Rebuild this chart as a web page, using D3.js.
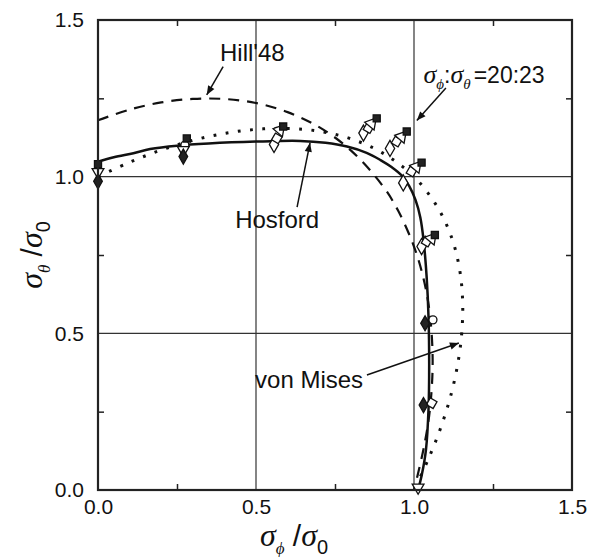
<!DOCTYPE html>
<html>
<head>
<meta charset="utf-8">
<script src="https://cdn.jsdelivr.net/npm/d3@7"></script>
<style>
  body { margin: 0; background: #fff; }
  svg { display: block; }
</style>
</head>
<body>
<div id="chart"></div>
<script>
// axis ticks
const majorTicks = [0, 0.5, 1.0, 1.5];
const minorTicks = [0.25, 0.75, 1.25];
const gridValues = [0.5, 1.0];

// model curves, [sigma_phi/sigma_0, sigma_theta/sigma_0]
const hill48 = [[0, 1.18], [0.1, 1.214], [0.2, 1.237], [0.3, 1.248], [0.4, 1.248], [0.5, 1.235],
    [0.6, 1.206], [0.7, 1.158], [0.8, 1.084], [0.9, 0.972], [0.95, 0.891], [1.0, 0.777],
    [1.03, 0.675], [1.05, 0.562], [1.059, 0.41], [1.05, 0.254], [1.03, 0.13], [1.0, 0]];
const vonMises = [[0, 1.0], [0.1, 1.046], [0.2, 1.085], [0.3, 1.116], [0.4, 1.138], [0.5, 1.151],
    [0.6, 1.154], [0.7, 1.145], [0.8, 1.121], [0.9, 1.076], [1.0, 1.0], [1.076, 0.9], [1.121, 0.8],
    [1.145, 0.7], [1.154, 0.6], [1.151, 0.5], [1.138, 0.4], [1.116, 0.3], [1.085, 0.2],
    [1.046, 0.1], [1.0, 0]];
const hosford = [[0, 1.048], [0.05, 1.062], [0.112, 1.075], [0.165, 1.088], [0.25, 1.099],
    [0.35, 1.106], [0.5, 1.112], [0.64, 1.114], [0.72, 1.108], [0.788, 1.096], [0.85, 1.076],
    [0.894, 1.053], [0.93, 1.03], [0.96, 1.005], [0.985, 0.97], [1.005, 0.925], [1.02, 0.87],
    [1.03, 0.8], [1.04, 0.68], [1.046, 0.55], [1.048, 0.4], [1.046, 0.26], [1.038, 0.13],
    [1.025, 0.05], [1.013, 0]];

// measured points, one array per symbol
const filledSquare = [[0, 1.04], [0.281, 1.122], [0.586, 1.16], [0.882, 1.186], [0.977, 1.144],
    [1.024, 1.045], [1.066, 0.814]];
const openTriangle = [[0.576, 1.149], [0.866, 1.17], [0.961, 1.128], [1.008, 1.032], [1.056, 0.803]];
const openSquare = [[0.566, 1.122], [0.856, 1.155], [0.945, 1.112], [0.992, 1.016], [1.04, 0.793],
    [1.056, 0.277]];
const openDiamond = [[0.557, 1.103], [0.84, 1.139], [0.924, 1.09], [0.966, 0.98], [1.024, 0.777]];
const openCircle = [[0.275, 1.101], [1.06, 0.543]];
const openTriDown = [[0, 1.015], [0.27, 1.085], [1.013, 0.008]];
const filledDiamond = [[0, 0.985], [0.27, 1.064], [1.035, 0.532], [1.03, 0.271]];

const margin = {top: 20, right: 30, bottom: 67, left: 98};
const width = 602 - margin.left - margin.right;
const height = 557 - margin.top - margin.bottom;

const svg = d3.select("#chart").append("svg")
    .attr("width", 602)
    .attr("height", 557);

svg.append("defs").append("marker")
    .attr("id", "arrow")
    .attr("viewBox", "0 -5 10 10")
    .attr("refX", 10)
    .attr("refY", 0)
    .attr("markerUnits", "userSpaceOnUse")
    .attr("markerWidth", 11)
    .attr("markerHeight", 9)
    .attr("orient", "auto")
  .append("path")
    .attr("d", "M0,-4L10,0L0,4Z")
    .attr("fill", "#111");

const g = svg.append("g")
    .attr("transform", `translate(${margin.left}, ${margin.top})`);

const x = d3.scaleLinear().domain([0, 1.5]).range([0, width]);
const y = d3.scaleLinear().domain([0, 1.5]).range([height, 0]);

// grid lines
g.selectAll(".vgrid")
    .data(gridValues)
    .enter()
    .append("line")
        .attr("x1", d => x(d)).attr("x2", d => x(d))
        .attr("y1", 0).attr("y2", height)
        .attr("stroke", "#333").attr("stroke-width", 1.2);
g.selectAll(".hgrid")
    .data(gridValues)
    .enter()
    .append("line")
        .attr("x1", 0).attr("x2", width)
        .attr("y1", d => y(d)).attr("y2", d => y(d))
        .attr("stroke", "#333").attr("stroke-width", 1.2);

// labels of major ticks
const labelAxis = (sel) => {
    sel.selectAll("path").remove();
    sel.selectAll("line").remove();
    sel.selectAll("text")
        .attr("font-family", "Liberation Sans, Arial, sans-serif")
        .attr("font-size", "21px")
        .attr("fill", "#111");
};
g.append("g")
    .attr("transform", `translate(0, ${height})`)
    .call(d3.axisBottom(x).tickValues(majorTicks).tickFormat(d3.format(".1f")).tickSize(0).tickPadding(9))
    .call(labelAxis);
g.append("g")
    .call(d3.axisLeft(y).tickValues(majorTicks).tickFormat(d3.format(".1f")).tickSize(0).tickPadding(14))
    .call(labelAxis);

// small inward ticks on all four sides
const minorAxis = (sel) => {
    sel.select(".domain").remove();
    sel.selectAll("text").remove();
    sel.selectAll("line").attr("stroke", "#222").attr("stroke-width", 1.5);
};
g.append("g").attr("transform", `translate(0, ${height})`)
    .call(d3.axisBottom(x).tickValues(minorTicks).tickSize(-6)).call(minorAxis);
g.append("g")
    .call(d3.axisTop(x).tickValues(minorTicks).tickSize(-6)).call(minorAxis);
g.append("g")
    .call(d3.axisLeft(y).tickValues(minorTicks).tickSize(-6)).call(minorAxis);
g.append("g").attr("transform", `translate(${width}, 0)`)
    .call(d3.axisRight(y).tickValues(minorTicks).tickSize(-6)).call(minorAxis);

// model curves
const line = d3.line()
    .x(d => x(d[0]))
    .y(d => y(d[1]))
    .curve(d3.curveCatmullRom);

g.append("path")
    .datum(hill48)
    .attr("d", line)
    .attr("fill", "none")
    .attr("stroke", "#111")
    .attr("stroke-width", 2.2)
    .attr("stroke-dasharray", "11,8");
g.append("path")
    .datum(vonMises)
    .attr("d", line)
    .attr("fill", "none")
    .attr("stroke", "#111")
    .attr("stroke-width", 3)
    .attr("stroke-dasharray", "2.8,9.5");
g.append("path")
    .datum(hosford)
    .attr("d", line)
    .attr("fill", "none")
    .attr("stroke", "#111")
    .attr("stroke-width", 2.5);

// data symbols
const drawSymbols = (data, type, size, filled, rotate) => {
    g.selectAll(null)
        .data(data)
        .enter()
        .append("path")
            .attr("d", d3.symbol().type(type).size(size))
            .attr("transform", d => `translate(${x(d[0])}, ${y(d[1])}) rotate(${rotate || 0})`)
            .attr("fill", filled ? "#222" : "#fff")
            .attr("stroke", "#111")
            .attr("stroke-width", 1.3);
};
drawSymbols(openDiamond, d3.symbolDiamond, 75, false);
drawSymbols(openSquare, d3.symbolSquare, 60, false, 30);
drawSymbols(openTriangle, d3.symbolTriangle, 65, false, 40);
drawSymbols(openCircle, d3.symbolCircle, 50, false);
drawSymbols(openTriDown, d3.symbolTriangle, 60, false, 180);
drawSymbols(filledDiamond, d3.symbolDiamond, 65, true);
drawSymbols(filledSquare, d3.symbolSquare, 50, true);

// frame
g.append("rect")
    .attr("x", 0).attr("y", 0)
    .attr("width", width).attr("height", height)
    .attr("fill", "none")
    .attr("stroke", "#222")
    .attr("stroke-width", 2.2);

// annotations
const notes = [
    {text: "Hill'48", at: [0.386, 1.369], from: [0.396, 1.351], to: [0.344, 1.261]},
    {text: "Hosford", at: [0.434, 0.836], from: [0.63, 0.903], to: [0.671, 1.108]},
    {text: "von Mises", at: [0.497, 0.326], from: [0.851, 0.367], to: [1.142, 0.469]}
];
notes.forEach(n => {
    g.append("text")
        .attr("x", x(n.at[0]))
        .attr("y", y(n.at[1]))
        .attr("font-family", "Liberation Sans, Arial, sans-serif")
        .attr("font-size", "24px")
        .attr("fill", "#111")
        .text(n.text);
    g.append("line")
        .attr("x1", x(n.from[0])).attr("y1", y(n.from[1]))
        .attr("x2", x(n.to[0])).attr("y2", y(n.to[1]))
        .attr("stroke", "#111")
        .attr("stroke-width", 1.5)
        .attr("marker-end", "url(#arrow)");
});

// stress ratio label
const ratio = g.append("text")
    .attr("x", x(1.03))
    .attr("y", y(1.299))
    .attr("font-family", "Liberation Sans, Arial, sans-serif")
    .attr("font-size", "23px")
    .attr("fill", "#111");
ratio.append("tspan").attr("font-family", "Liberation Serif, serif").attr("font-style", "italic").attr("font-size", "26px").text("σ");
ratio.append("tspan").attr("font-family", "Liberation Serif, serif").attr("font-style", "italic").attr("font-size", "15px").attr("dy", 6).text("ϕ");
ratio.append("tspan").attr("dy", -6).text(":");
ratio.append("tspan").attr("font-family", "Liberation Serif, serif").attr("font-style", "italic").attr("font-size", "26px").text("σ");
ratio.append("tspan").attr("font-family", "Liberation Serif, serif").attr("font-style", "italic").attr("font-size", "15px").attr("dy", 6).text("θ");
ratio.append("tspan").attr("dy", -6).attr("dx", 3).text("=20:23");
g.append("line")
    .attr("x1", x(1.101)).attr("y1", y(1.283))
    .attr("x2", x(1.009)).attr("y2", y(1.179))
    .attr("stroke", "#111")
    .attr("stroke-width", 1.5)
    .attr("marker-end", "url(#arrow)");

// axis titles
const axisTitle = (sel, sub) => {
    sel.append("tspan").attr("font-family", "Liberation Serif, serif").attr("font-style", "italic").attr("font-size", "32px").text("σ");
    sel.append("tspan").attr("font-family", "Liberation Serif, serif").attr("font-style", "italic").attr("font-size", "17px").attr("dy", 8).text(sub);
    sel.append("tspan").attr("font-family", "Liberation Sans, Arial, sans-serif").attr("font-size", "30px").attr("dy", -8).text(" /");
    sel.append("tspan").attr("font-family", "Liberation Serif, serif").attr("font-style", "italic").attr("font-size", "32px").text("σ");
    sel.append("tspan").attr("font-family", "Liberation Sans, Arial, sans-serif").attr("font-size", "20px").attr("dy", 8).text("0");
};
svg.append("text")
    .attr("x", 294)
    .attr("y", 546)
    .attr("text-anchor", "middle")
    .attr("fill", "#111")
    .call(axisTitle, "ϕ");
svg.append("text")
    .attr("transform", `translate(42, ${margin.top + height / 2}) rotate(-90)`)
    .attr("text-anchor", "middle")
    .attr("fill", "#111")
    .call(axisTitle, "θ");
</script>
</body>
</html>
